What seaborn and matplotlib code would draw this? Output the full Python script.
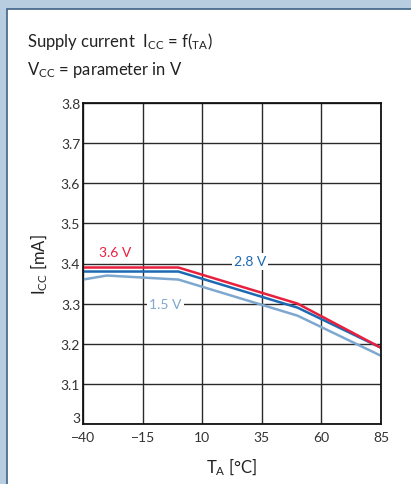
import numpy as np
import seaborn as sns
import matplotlib.pyplot as plt
import matplotlib.transforms as mtransforms
from matplotlib.patches import Rectangle

# Data
temps = [-40, -30, 0, 50, 85]
icc_36 = [3.39, 3.39, 3.39, 3.30, 3.19]
icc_28 = [3.38, 3.38, 3.38, 3.29, 3.19]
icc_15 = [3.36, 3.37, 3.36, 3.27, 3.17]
x_ticks = [-40, -15, 10, 35, 60, 85]
y_ticks = [3.0, 3.1, 3.2, 3.3, 3.4, 3.5, 3.6, 3.7, 3.8]
y_tick_labels = ["3", "3.1", "3.2", "3.3", "3.4", "3.5", "3.6", "3.7", "3.8"]

red = "#e8203e"
blue = "#1d6ab2"
light_blue = "#7ea8d0"

sns.set_theme(style="white")
plt.rcParams["font.family"] = ["Lato", "DejaVu Sans"]
plt.rcParams["mathtext.fontset"] = "custom"
plt.rcParams["mathtext.rm"] = "Lato"
plt.rcParams["mathtext.it"] = "Lato"

fig = plt.figure(figsize=(4.11, 4.85), dpi=100)
fig.patch.set_facecolor("#b9cde0")
fig.patches.append(Rectangle((7 / 411, -0.01), 1, 1.01 - 10 / 485, transform=fig.transFigure,
                             facecolor="white", edgecolor="#3e6488", linewidth=1.2, zorder=-5))

ax = fig.add_axes([83 / 411, 60 / 485, 298 / 411, 321 / 485])
ax.set_facecolor("white")

sns.lineplot(x=temps, y=icc_15, color=light_blue, linewidth=1.8, ax=ax)
sns.lineplot(x=temps, y=icc_28, color=blue, linewidth=1.8, ax=ax)
sns.lineplot(x=temps, y=icc_36, color=red, linewidth=1.8, ax=ax)

ax.set_xlim(-40, 85)
ax.set_ylim(3.0, 3.8)
ax.set_xticks(x_ticks)
ax.set_xticklabels(["\u221240", "\u221215", "10", "35", "60", "85"])
ax.set_yticks(y_ticks)
ax.set_yticklabels(y_tick_labels)
ax.grid(True, color="#2a2a2a", linewidth=1.0)
ax.set_axisbelow(True)
for s in ax.spines.values():
    s.set_color("#111111")
    s.set_linewidth(1.3)
ax.tick_params(labelsize=10, colors="#333333", pad=2, length=0)
ax.tick_params(axis="x", pad=5)

# lift the bottom "3" so it sits above "-40" as in the original
lbl0 = ax.get_yticklabels()[0]
lbl0.set_transform(lbl0.get_transform() + mtransforms.ScaledTranslation(0, 5 / 72, fig.dpi_scale_trans))

ax.set_xlabel(r"T$_\mathrm{A}$ [°C]", fontsize=12, color="#222222", labelpad=9)
ax.set_ylabel(r"I$_\mathrm{CC}$ [mA]", fontsize=12, color="#222222", labelpad=8)

bbox = dict(facecolor="white", edgecolor="none", pad=1.5)
ax.text(-26.5, 3.428, "3.6 V", color=red, fontsize=10, ha="center", va="center")
ax.text(30, 3.405, "2.8 V", color=blue, fontsize=10, ha="center", va="center", bbox=bbox)
ax.text(-5.5, 3.30, "1.5 V", color=light_blue, fontsize=10, ha="center", va="center", bbox=bbox)

fig.text(27 / 411, 1 - 42 / 485, r"Supply current  I$_\mathrm{CC}$ = f($_\mathrm{TA}$)",
         fontsize=12, color="#222222", va="center")
fig.text(27 / 411, 1 - 70 / 485, r"V$_\mathrm{CC}$ = parameter in V",
         fontsize=12, color="#222222", va="center")

fig.savefig("out.png", dpi=100)
